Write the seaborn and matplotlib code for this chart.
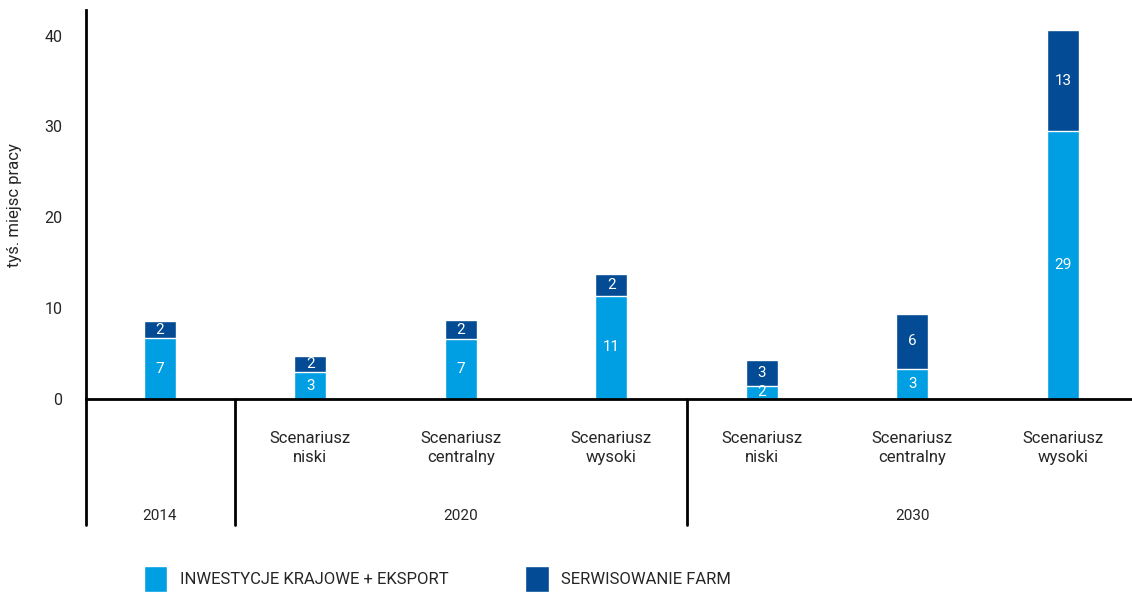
import matplotlib
matplotlib.use("Agg")
import matplotlib.pyplot as plt
import matplotlib.transforms as mtransforms
from matplotlib.patches import Patch
import pandas as pd
import seaborn as sns

# === Data (thousand jobs) ===
categories = ["2014", "2020 niski", "2020 centralny", "2020 wysoki",
              "2030 niski", "2030 centralny", "2030 wysoki"]
scenario_names = ["", "Scenariusz\nniski", "Scenariusz\ncentralny", "Scenariusz\nwysoki",
                  "Scenariusz\nniski", "Scenariusz\ncentralny", "Scenariusz\nwysoki"]
inwestycje = [6.7, 3.0, 6.6, 11.4, 1.5, 3.3, 29.5]
serwis = [1.9, 1.7, 2.1, 2.4, 2.8, 6.1, 11.1]
inwestycje_labels = ["7", "3", "7", "11", "2", "3", "29"]
serwis_labels = ["2", "2", "2", "2", "3", "6", "13"]
groups = ["2014", "2020", "2030"]
group_centers = [0, 2, 5]
group_bounds = [-0.49, 0.5, 3.5]

light = "#009fe3"
dark = "#034b94"

sns.set_style("white")
plt.rcParams["font.family"] = ["Roboto", "DejaVu Sans"]

df = pd.DataFrame({"kat": categories, "inw": inwestycje, "serw": serwis})
df["total"] = df["inw"] + df["serw"]

fig = plt.figure(figsize=(11.32, 5.94), dpi=100)
ax = fig.add_axes([0.076, 0.328, 0.924, 0.655])

sns.barplot(data=df, x="kat", y="total", color=dark, width=0.21, saturation=1, ax=ax)
sns.barplot(data=df, x="kat", y="inw", color=light, width=0.21, saturation=1, ax=ax)

for i in range(len(categories)):
    ax.text(i, inwestycje[i] / 2, inwestycje_labels[i], ha="center", va="center",
            color="white", fontsize=11)
    ax.text(i, inwestycje[i] + serwis[i] / 2, serwis_labels[i], ha="center", va="center",
            color="white", fontsize=11)

ax.set_xlim(-0.49, 6.46)
ax.set_ylim(0, 42.8)
ax.set_yticks([0, 10, 20, 30, 40])
ax.tick_params(axis="y", length=0, labelsize=11.5, pad=17)
ax.tick_params(axis="x", length=0)
ax.set_xticks([])
ax.set_xlabel("")
ax.set_ylabel("tyś. miejsc pracy", fontsize=12, labelpad=16)

for side in ["top", "right"]:
    ax.spines[side].set_visible(False)
ax.spines["left"].set_linewidth(2)
ax.spines["bottom"].set_linewidth(2)
ax.spines["left"].set_color("black")
ax.spines["bottom"].set_color("black")

trans = mtransforms.blended_transform_factory(ax.transData, ax.transAxes)
for xb in group_bounds:
    ax.plot([xb, xb], [0, -0.324], transform=trans, color="black", lw=2, clip_on=False)

for i, name in enumerate(scenario_names):
    if name:
        ax.text(i, -0.125, name, transform=trans, ha="center", va="center",
                fontsize=12, linespacing=1.3)

for g, c in zip(groups, group_centers):
    ax.text(c, -0.30, g, transform=trans, ha="center", va="center", fontsize=11)

handles = [Patch(facecolor=light, label="INWESTYCJE KRAJOWE + EKSPORT"),
           Patch(facecolor=dark, label="SERWISOWANIE FARM")]
fig.legend(handles=handles, loc="lower left", bbox_to_anchor=(0.114, -0.022), ncol=2,
           frameon=False, fontsize=12, handlelength=1.4, handleheight=2.0,
           handletextpad=0.75, columnspacing=4.6)

fig.savefig("out.png", dpi=100)
